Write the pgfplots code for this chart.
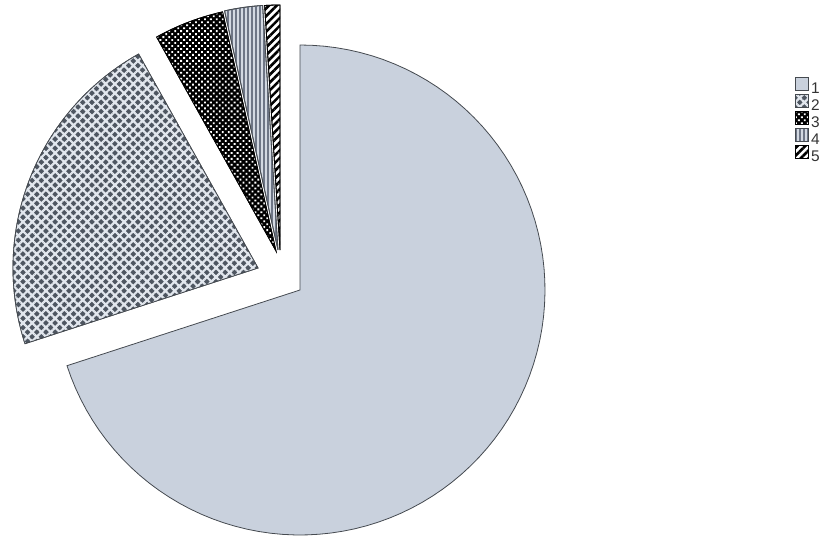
\documentclass[border=0pt]{standalone}
\usepackage{fontspec}
\setmainfont{Liberation Sans}
\usepackage{pgfplots}
\usepackage{pgfplotstable}
\pgfplotsset{compat=1.18}
\usetikzlibrary{patterns.meta}
\definecolor{cA}{HTML}{C9D1DD}
\definecolor{cBdark}{HTML}{4E5661}
\definecolor{cBlight}{HTML}{E2E7EE}
\definecolor{cDfill}{HTML}{D3D9E2}
\definecolor{cDline}{HTML}{6E7686}
\definecolor{edge}{HTML}{454A50}
\pgfplotstableread{
slice value
1 70.0
2 21.9
3 4.6
4 2.5
5 1.0
}\piedata
\pgfplotstablegetelem{0}{value}\of\piedata \let\vA\pgfplotsretval
\pgfplotstablegetelem{1}{value}\of\piedata \let\vB\pgfplotsretval
\pgfplotstablegetelem{2}{value}\of\piedata \let\vC\pgfplotsretval
\pgfplotstablegetelem{3}{value}\of\piedata \let\vD\pgfplotsretval
\pgfplotstablegetelem{4}{value}\of\piedata \let\vE\pgfplotsretval
\pgfmathsetmacro\aE{90+3.6*\vE}
\pgfmathsetmacro\aD{\aE+3.6*\vD}
\pgfmathsetmacro\aC{\aD+3.6*\vC}
\pgfmathsetmacro\aB{\aC+3.6*\vB}
\pgfmathsetmacro\aA{\aB+3.6*\vA}
\tikzset{
  sA/.style={fill=cA, draw=edge, line width=0.8bp},
  sB/.style={fill=cBdark, draw=edge, line width=0.8bp,
     postaction={pattern={Hatch[angle=45,distance=6.5bp,line width=2.2bp]}, pattern color=cBlight}},
  sC/.style={fill=black, draw=black, line width=0.8bp,
     postaction={pattern={Dots[angle=45,distance=4.2bp,radius=1.3bp]}, pattern color=white}},
  sD/.style={fill=cDfill, draw=edge, line width=0.8bp,
     postaction={pattern={Lines[angle=90,distance=4bp,line width=1.1bp]}, pattern color=cDline}},
  sE/.style={fill=white, draw=black, line width=0.8bp,
     postaction={pattern={Lines[angle=45,distance=5.5bp,line width=2.6bp]}, pattern color=black}},
}
\newcommand\pieslice[5]{%
  \addplot[#1, domain=#2:#3, samples=90, variable=\t, forget plot]
    ({#4+245*cos(t)},{#5+245*sin(t)}) -- (axis cs:#4,#5) -- cycle;
}
\newcommand\legtxt[1]{\fontsize{15.5}{15.5}\selectfont #1}
\begin{document}
\begin{tikzpicture}
\begin{axis}[
  width=826bp, height=539bp, scale only axis,
  xmin=0, xmax=826, ymin=0, ymax=539,
  axis lines=none, ticks=none, clip=false,
  legend style={at={(rel axis cs:0.9625,0.857)}, anchor=north west, draw=none, fill=none,
    inner sep=0pt, row sep=-3bp, text=black!80,
    cells={anchor=west, inner sep=0.8bp}},
  legend image code/.code={\draw[#1] (0bp,-1.5bp) rectangle (13bp,11.5bp);},
]
\addlegendimage{sA}\addlegendentry{\legtxt{1}}
\addlegendimage{sB}\addlegendentry{\legtxt{2}}
\addlegendimage{sC}\addlegendentry{\legtxt{3}}
\addlegendimage{sD}\addlegendentry{\legtxt{4}}
\addlegendimage{sE}\addlegendentry{\legtxt{5}}
\pieslice{sA}{\aB}{\aA}{300}{249}
\pieslice{sB}{\aC}{\aB}{258}{271}
\pieslice{sC}{\aD}{\aC}{276}{288}
\pieslice{sD}{\aE}{\aD}{278}{289}
\pieslice{sE}{90}{\aE}{280}{289}
\end{axis}
\pgfresetboundingbox
\path (current axis.south west) rectangle (current axis.north east);
\end{tikzpicture}
\end{document}
